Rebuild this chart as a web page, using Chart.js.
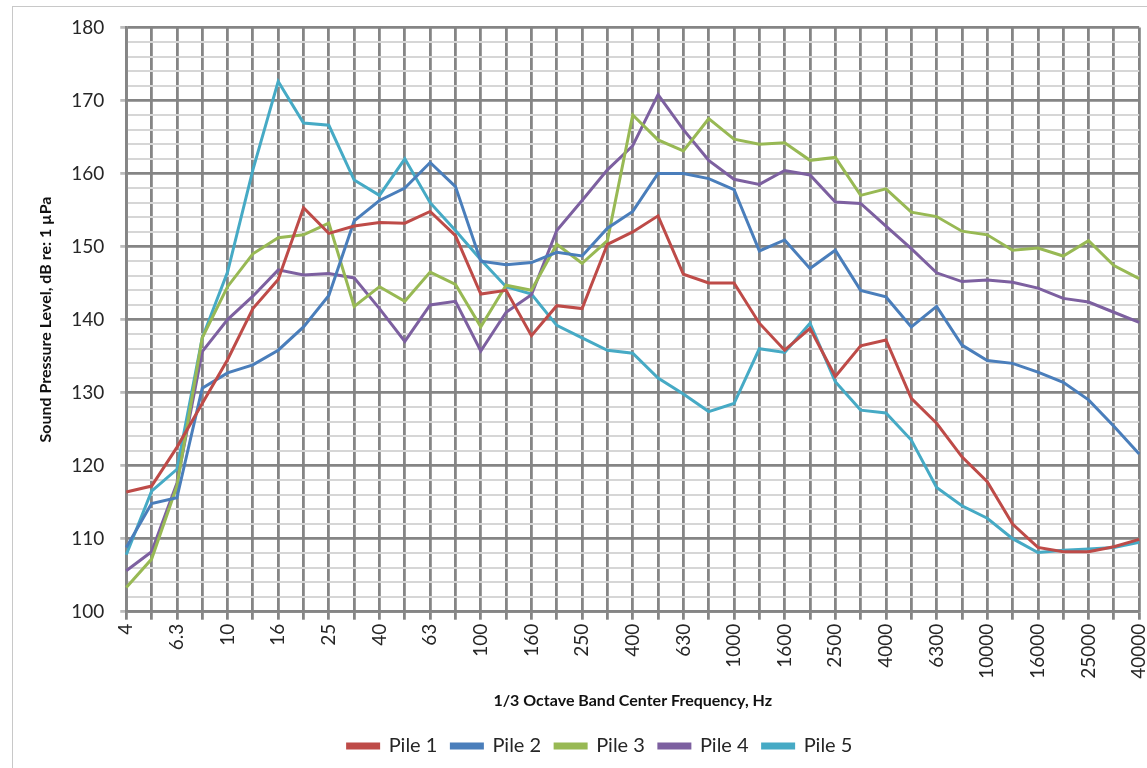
<!DOCTYPE html>
<html>
<head>
<meta charset="utf-8">
<script src="https://cdn.jsdelivr.net/npm/chart.js@4.4.1/dist/chart.umd.min.js"></script>
<style>
  html, body { margin: 0; padding: 0; background: #ffffff; overflow: hidden; }
  #frame { position: absolute; left: 12px; top: 6px; width: 1200px; height: 800px;
           border-left: 1px solid #c8c8c8; border-top: 1px solid #c8c8c8; box-sizing: border-box; }
  #wrap { position: absolute; left: 0; top: 0; width: 1166px; height: 768px; }
</style>
</head>
<body>
<div id="frame"></div>
<div id="wrap"><canvas id="c"></canvas></div>
<script>
// 1/3 octave band centre frequencies, Hz
const bands = ['4','5','6.3','8','10','12.5','16','20','25','31.5','40','50','63','80','100','125','160','200','250','315','400','500','630','800','1000','1250','1600','2000','2500','3150','4000','5000','6300','8000','10000','12500','16000','20000','25000','31500','40000'];

// Sound pressure level per band, dB re: 1 µPa
const pile1 = [116.4,117.2,122.5,128.5,134.5,141.5,145.5,155.3,151.8,152.8,153.3,153.2,154.8,151.5,143.5,144.0,137.8,141.9,141.5,150.3,152.0,154.2,146.2,145.0,145.0,139.5,135.8,138.8,132.2,136.4,137.2,129.2,125.8,121.2,117.8,112.0,108.8,108.2,108.2,108.9,109.9];
const pile2 = [108.8,114.8,115.6,130.6,132.7,133.8,135.8,139.0,143.3,153.5,156.3,158.0,161.5,158.2,148.0,147.5,147.8,149.2,148.7,152.5,154.8,160.0,160.0,159.3,157.8,149.4,150.9,147.0,149.5,144.0,143.1,139.0,141.8,136.5,134.4,134.0,132.8,131.4,129.0,125.4,121.6];
const pile3 = [103.3,107.2,117.2,137.5,144.5,149.0,151.2,151.6,153.2,141.8,144.5,142.5,146.5,144.8,139.0,144.7,144.0,150.3,147.7,150.8,168.0,164.6,163.1,167.5,164.7,164.0,164.2,161.8,162.2,157.0,157.9,154.7,154.1,152.1,151.6,149.5,149.8,148.7,150.8,147.4,145.6];
const pile4 = [105.6,108.2,117.6,135.6,140.0,143.2,146.8,146.1,146.3,145.7,141.5,137.0,142.0,142.5,135.7,141.0,143.4,152.2,156.3,160.5,163.8,170.8,166.0,161.8,159.2,158.5,160.4,159.8,156.1,155.9,152.8,149.7,146.4,145.2,145.4,145.1,144.3,142.9,142.4,141.0,139.6];
const pile5 = [107.8,116.5,119.5,137.5,146.5,160.5,172.6,166.9,166.6,159.1,157.0,162.0,156.0,152.2,148.2,144.5,143.5,139.2,137.5,135.8,135.4,132.0,129.8,127.4,128.5,136.0,135.5,139.5,131.5,127.6,127.2,123.5,117.0,114.5,112.8,110.0,108.1,108.4,108.6,108.8,109.5];

const seriesNames = ['Pile 1','Pile 2','Pile 3','Pile 4','Pile 5'];
const seriesColors = ['#be4b48','#4a7ebb','#98b954','#7d60a0','#46aac5'];
const seriesData = [pile1, pile2, pile3, pile4, pile5];

const FONT = 'Lato, "Open Sans", sans-serif';
const MAJOR = '#858585';
const MINOR = '#d6d6d6';

const datasets = seriesData.map((d, i) => ({
  label: seriesNames[i],
  data: d,
  borderColor: seriesColors[i],
  backgroundColor: seriesColors[i],
  borderWidth: 3,
  pointRadius: 0,
  tension: 0
}));

new Chart(document.getElementById('c'), {
  type: 'line',
  data: { labels: bands, datasets },
  options: {
    responsive: true,
    maintainAspectRatio: false,
    animation: false,
    layout: { padding: { top: 20, left: 34, right: 0, bottom: 2 } },
    plugins: {
      tooltip: { enabled: false },
      legend: {
        position: 'bottom',
        labels: {
          font: { family: FONT, size: 20 },
          color: '#262626',
          boxWidth: 31,
          boxHeight: 4,
          padding: 14
        }
      }
    },
    scales: {
      x: {
        type: 'category',
        offset: false,
        grid: {
          color: MAJOR,
          lineWidth: 2.8,
          tickLength: 8,
          tickColor: MAJOR
        },
        border: { color: MAJOR, width: 2.8 },
        ticks: {
          autoSkip: false,
          minRotation: 90,
          maxRotation: 90,
          padding: 4,
          color: '#262626',
          font: { family: FONT, size: 19 },
          callback: (v, i) => (i % 2 === 0 ? bands[i] : '')
        },
        title: {
          display: true,
          text: '1/3 Octave Band Center Frequency, Hz',
          color: '#111',
          font: { family: FONT, size: 16, weight: 'bold' },
          padding: { top: 8, bottom: 12 }
        }
      },
      y: {
        min: 100,
        max: 180,
        grid: {
          color: ctx => (ctx.tick && ctx.tick.value % 10 === 0 ? MAJOR : MINOR),
          lineWidth: ctx => (ctx.tick && ctx.tick.value % 10 === 0 ? 2.8 : 2),
          tickLength: 6,
          tickColor: ctx => (ctx.tick && ctx.tick.value % 10 === 0 ? '#bbbbbb' : 'rgba(0,0,0,0)')
        },
        border: { color: MAJOR, width: 2.8 },
        ticks: {
          stepSize: 2,
          autoSkip: false,
          padding: 16,
          color: '#262626',
          font: { family: FONT, size: 19 },
          callback: v => (v % 10 === 0 ? String(v) : '')
        },
        title: {
          display: true,
          text: 'Sound Pressure Level, dB re: 1 µPa',
          color: '#111',
          font: { family: FONT, size: 16, weight: 'bold' },
          padding: { top: 2, bottom: 0 }
        }
      }
    }
  }
});
</script>
</body>
</html>
